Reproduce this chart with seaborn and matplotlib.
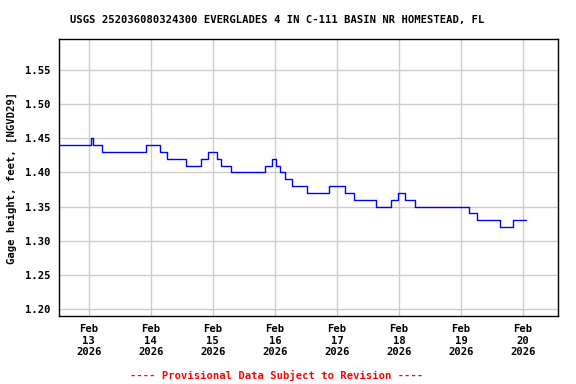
import pandas as pd
import matplotlib.pyplot as plt
import seaborn as sns

# --- DONNEES ---
TITRE = "USGS 252036080324300 EVERGLADES 4 IN C-111 BASIN NR HOMESTEAD, FL"
dates = [
    "2026-02-12 12:00", "2026-02-13 00:45", "2026-02-13 01:30", "2026-02-13 05:15",
    "2026-02-13 22:15", "2026-02-14 03:45", "2026-02-14 06:15", "2026-02-14 13:30",
    "2026-02-14 19:15", "2026-02-14 22:00", "2026-02-15 01:30", "2026-02-15 03:15",
    "2026-02-15 07:00", "2026-02-15 20:00", "2026-02-15 22:45", "2026-02-16 00:30",
    "2026-02-16 02:00", "2026-02-16 03:45", "2026-02-16 06:30", "2026-02-16 12:30",
    "2026-02-16 21:00", "2026-02-17 03:15", "2026-02-17 06:45", "2026-02-17 15:15",
    "2026-02-17 21:00", "2026-02-17 23:45", "2026-02-18 02:30", "2026-02-18 06:00",
    "2026-02-19 03:00", "2026-02-19 06:15", "2026-02-19 15:15", "2026-02-19 20:15",
    "2026-02-20 01:00",
]
hauteurs = [
    1.44, 1.45, 1.44, 1.43,
    1.44, 1.43, 1.42, 1.41,
    1.42, 1.43, 1.42, 1.41,
    1.40, 1.41, 1.42, 1.41,
    1.40, 1.39, 1.38, 1.37,
    1.38, 1.37, 1.36, 1.35,
    1.36, 1.37, 1.36, 1.35,
    1.34, 1.33, 1.32, 1.33,
    1.33,
]
jours_ticks = ["2026-02-13", "2026-02-14", "2026-02-15", "2026-02-16",
               "2026-02-17", "2026-02-18", "2026-02-19", "2026-02-20"]
y_ticks = [1.20, 1.25, 1.30, 1.35, 1.40, 1.45, 1.50, 1.55]

df = pd.DataFrame({"Date": pd.to_datetime(dates), "Hauteur": hauteurs})

sns.set_style("whitegrid")
plt.rcParams["font.family"] = ["DejaVu Sans Mono"]
plt.rcParams["text.color"] = "black"
plt.rcParams["axes.labelcolor"] = "black"
plt.rcParams["xtick.color"] = "black"
plt.rcParams["ytick.color"] = "black"

fig = plt.figure(figsize=(5.76, 3.84), dpi=100)
ax = fig.add_axes([59 / 576, 1 - 316 / 384, 499 / 576, 277 / 384])

sns.lineplot(data=df, x="Date", y="Hauteur", drawstyle="steps-post",
             color="#0000ff", linewidth=1.0, ax=ax)

ax.set_xlim(pd.Timestamp("2026-02-12 12:30"), pd.Timestamp("2026-02-20 13:30"))
ax.set_ylim(1.19, 1.595)
ax.set_yticks(y_ticks)
ax.set_yticklabels([f"{v:.2f}" for v in y_ticks], fontsize=7.6, fontweight="bold")
ax.set_xticks(pd.to_datetime(jours_ticks))
ax.set_xticklabels([f"Feb\n{d[-2:]}\n{d[:4]}" for d in jours_ticks],
                   fontsize=7.6, fontweight="bold", linespacing=1.15)
ax.tick_params(length=0, pad=6)
ax.grid(True, color="#cccccc", linewidth=1.0)
for s in ax.spines.values():
    s.set_color("black")
    s.set_linewidth(1.0)

ax.set_xlabel("")
ax.set_ylabel("Gage height, feet, [NGVD29]", fontsize=7.6, fontweight="bold", labelpad=6)

fig.text(277.5 / 576, 1 - 20 / 384, TITRE, ha="center", va="center",
         fontsize=7.6, fontweight="bold")
fig.text(277 / 576, 1 - 375 / 384, "---- Provisional Data Subject to Revision ----",
         ha="center", va="center", fontsize=7.6, fontweight="bold", color="red")

fig.savefig("out.png", dpi=100)
plt.close(fig)
